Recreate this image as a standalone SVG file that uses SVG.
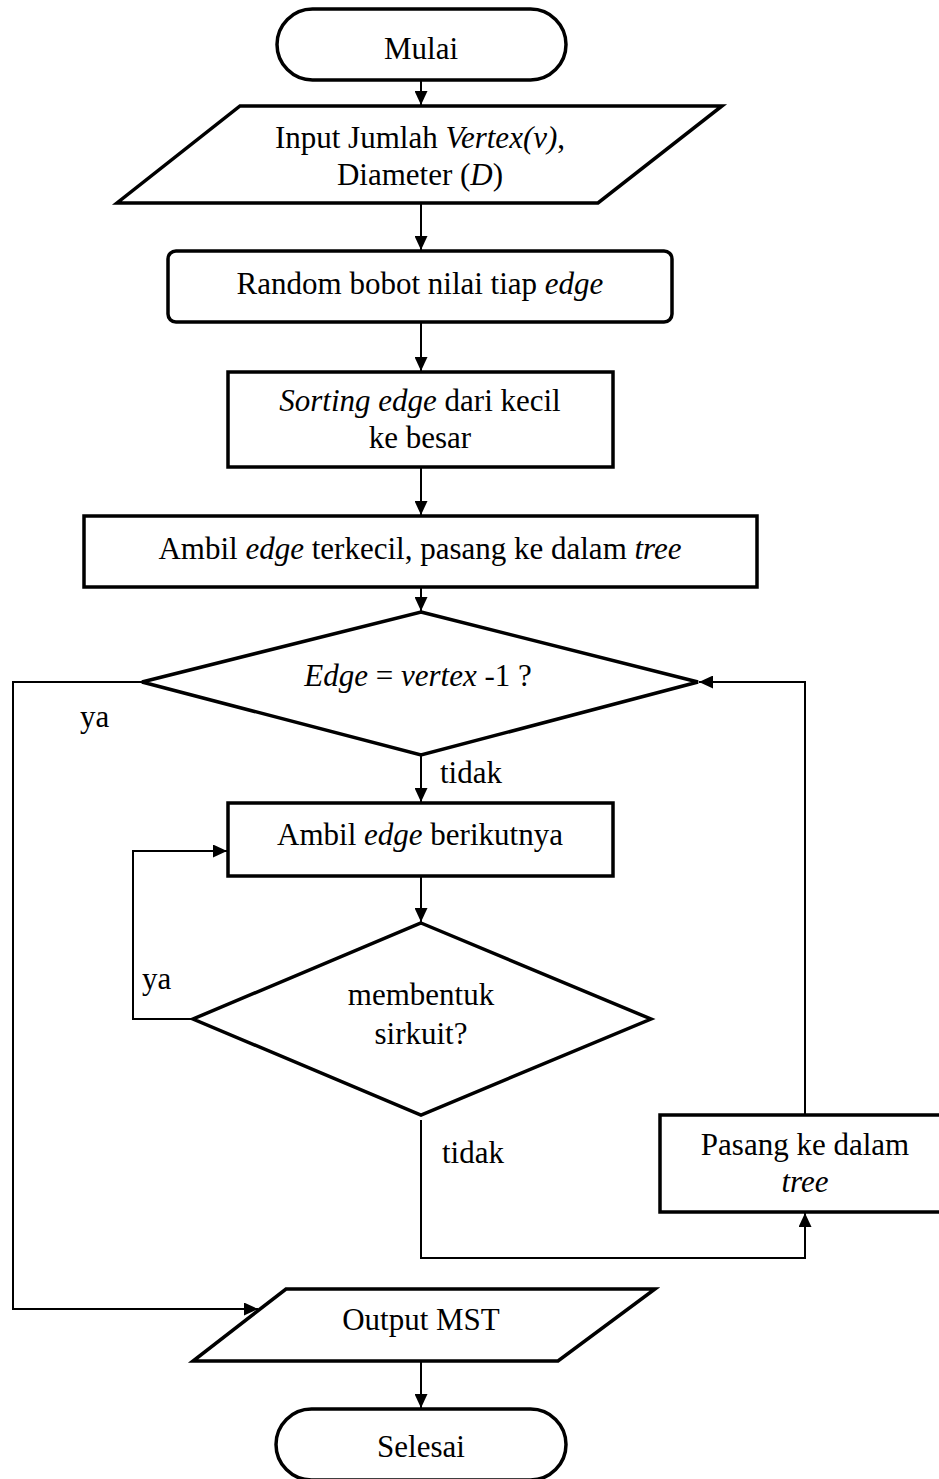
<svg xmlns="http://www.w3.org/2000/svg" width="939" height="1479" viewBox="0 0 939 1479">
<style>
.shape{fill:#fff;stroke:#000;stroke-width:3.5;stroke-linejoin:miter}
.conn{fill:none;stroke:#000;stroke-width:2}
text{font-family:"Liberation Serif","Times New Roman",serif;font-size:31px;fill:#000}
.c{text-anchor:middle}
.i{font-style:italic}
</style>
<defs>
<marker id="arr" markerUnits="userSpaceOnUse" markerWidth="15" markerHeight="13" refX="14" refY="6.5" orient="auto">
<path d="M0,0 L14,6.5 L0,13 z" fill="#000"/>
</marker>
</defs>
<rect width="939" height="1479" fill="#fff"/>
<g id="connectors">
<line class="conn" x1="421" y1="80" x2="421" y2="105" marker-end="url(#arr)"/>
<line class="conn" x1="421" y1="203" x2="421" y2="250" marker-end="url(#arr)"/>
<line class="conn" x1="421" y1="322" x2="421" y2="371" marker-end="url(#arr)"/>
<line class="conn" x1="421" y1="467" x2="421" y2="515" marker-end="url(#arr)"/>
<line class="conn" x1="421" y1="587" x2="421" y2="611" marker-end="url(#arr)"/>
<line class="conn" x1="421" y1="755" x2="421" y2="802" marker-end="url(#arr)"/>
<polyline class="conn" points="142,682 13,682 13,1309 258,1309" marker-end="url(#arr)"/>
<line class="conn" x1="421" y1="876" x2="421" y2="922" marker-end="url(#arr)"/>
<polyline class="conn" points="193,1019 133,1019 133,851 227,851" marker-end="url(#arr)"/>
<polyline class="conn" points="421,1120 421,1258 805,1258 805,1213" marker-end="url(#arr)"/>
<polyline class="conn" points="805,1115 805,682 699,682" marker-end="url(#arr)"/>
<line class="conn" x1="421" y1="1361" x2="421" y2="1408" marker-end="url(#arr)"/>
<text x="80" y="727">ya</text>
<text x="440" y="783">tidak</text>
<text x="142" y="989">ya</text>
<text x="442" y="1163">tidak</text>
</g>
<g id="mulai">
<rect class="shape" x="277" y="9" width="289" height="71" rx="35.5"/>
<text class="c" x="421" y="59">Mulai</text>
</g>
<g id="input">
<polygon class="shape" points="240,106 722,106 598,203 117,203"/>
<text class="c" x="420" y="148">Input Jumlah <tspan class="i">Vertex(v)</tspan>,</text>
<text class="c" x="420" y="185">Diameter (<tspan class="i">D</tspan>)</text>
</g>
<g id="random">
<rect class="shape" x="168" y="251" width="504" height="71" rx="8"/>
<text class="c" x="420" y="294">Random bobot nilai tiap <tspan class="i">edge</tspan></text>
</g>
<g id="sorting">
<rect class="shape" x="228" y="372" width="385" height="95"/>
<text class="c" x="420" y="411"><tspan class="i">Sorting edge</tspan> dari kecil</text>
<text class="c" x="420" y="448">ke besar</text>
</g>
<g id="ambil-terkecil">
<rect class="shape" x="84" y="516" width="673" height="71"/>
<text class="c" x="420" y="559">Ambil <tspan class="i">edge</tspan> terkecil, pasang ke dalam <tspan class="i">tree</tspan></text>
</g>
<g id="cek-vertex">
<polygon class="shape" points="421,612 698,682 421,755 142,682"/>
<text class="c" x="418" y="686"><tspan class="i">Edge</tspan> = <tspan class="i">vertex</tspan> -1 ?</text>
</g>
<g id="ambil-berikutnya">
<rect class="shape" x="228" y="803" width="385" height="73"/>
<text class="c" x="420" y="845">Ambil <tspan class="i">edge</tspan> berikutnya</text>
</g>
<g id="cek-sirkuit">
<polygon class="shape" points="421,923 651,1019 421,1115 193,1019"/>
<text class="c" x="421" y="1005">membentuk</text>
<text class="c" x="421" y="1044">sirkuit?</text>
</g>
<g id="pasang">
<rect class="shape" x="660" y="1115" width="290" height="97"/>
<text class="c" x="805" y="1155">Pasang ke dalam</text>
<text class="c i" x="805" y="1192">tree</text>
</g>
<g id="output">
<polygon class="shape" points="286,1289 655,1289 558,1361 193,1361"/>
<text class="c" x="421" y="1330">Output MST</text>
</g>
<g id="selesai">
<rect class="shape" x="276" y="1409" width="290" height="71" rx="35.5"/>
<text class="c" x="421" y="1457">Selesai</text>
</g>
</svg>
